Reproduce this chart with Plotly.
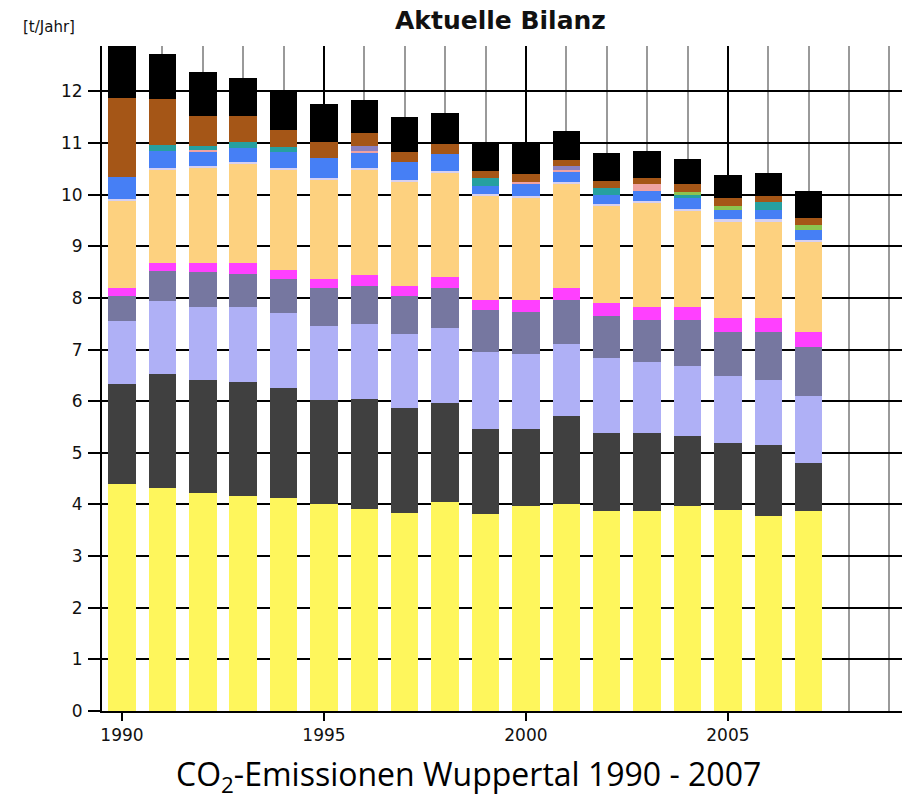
import plotly.graph_objects as go

years = list(range(1990, 2008))

# layer thicknesses in t/Jahr, bottom to top
gelb = [4.39, 4.31, 4.23, 4.16, 4.12, 4.00, 3.92, 3.84, 4.04, 3.81, 3.97, 4.00, 3.88, 3.88, 3.98, 3.89, 3.77, 3.88]
dunkelgrau = [1.94, 2.22, 2.18, 2.21, 2.13, 2.02, 2.13, 2.02, 1.93, 1.66, 1.50, 1.71, 1.51, 1.51, 1.34, 1.31, 1.39, 0.93]
lavendel = [1.22, 1.41, 1.41, 1.45, 1.45, 1.44, 1.45, 1.45, 1.45, 1.49, 1.45, 1.40, 1.45, 1.37, 1.37, 1.29, 1.25, 1.29]
schiefer = [0.49, 0.59, 0.69, 0.64, 0.66, 0.73, 0.74, 0.72, 0.77, 0.81, 0.81, 0.86, 0.81, 0.81, 0.88, 0.86, 0.94, 0.95]
magenta = [0.16, 0.14, 0.16, 0.21, 0.19, 0.17, 0.20, 0.21, 0.21, 0.20, 0.24, 0.23, 0.25, 0.25, 0.25, 0.27, 0.27, 0.30]
orange = [1.68, 1.81, 1.86, 1.93, 1.93, 1.93, 2.04, 2.01, 2.03, 2.01, 1.97, 2.01, 1.89, 2.02, 1.87, 1.87, 1.87, 1.75]
blass = [0.03] * 18
blau = [0.44, 0.34, 0.27, 0.28, 0.31, 0.40, 0.31, 0.36, 0.33, 0.16, 0.23, 0.20, 0.18, 0.21, 0.22, 0.18, 0.18, 0.18]
rosa = [0, 0, 0.04, 0, 0, 0, 0.03, 0, 0, 0, 0.05, 0.04, 0, 0.13, 0, 0, 0, 0]
tuerkis = [0, 0.11, 0.07, 0.11, 0.11, 0, 0, 0, 0, 0.15, 0, 0, 0.13, 0, 0.06, 0, 0.15, 0]
gruen = [0, 0, 0, 0, 0, 0, 0, 0, 0, 0, 0, 0, 0, 0, 0.06, 0.09, 0, 0.11]
violett = [0, 0, 0, 0, 0, 0, 0.09, 0, 0, 0, 0, 0.08, 0, 0, 0, 0, 0, 0]
braun = [1.53, 0.89, 0.58, 0.50, 0.32, 0.30, 0.25, 0.19, 0.20, 0.13, 0.16, 0.11, 0.14, 0.11, 0.15, 0.15, 0.12, 0.12]
schwarz = [1.12, 0.88, 0.86, 0.74, 0.77, 0.73, 0.64, 0.68, 0.60, 0.53, 0.57, 0.57, 0.53, 0.53, 0.48, 0.44, 0.45, 0.53]

layers = [
    (gelb, "#FEF65C"),
    (dunkelgrau, "#404040"),
    (lavendel, "#AFB0F6"),
    (schiefer, "#7677A0"),
    (magenta, "#FF40FF"),
    (orange, "#FDD17F"),
    (blass, "#D6D0F0"),
    (blau, "#467FF5"),
    (rosa, "#EFA3A3"),
    (tuerkis, "#26A0A0"),
    (gruen, "#8CC450"),
    (violett, "#8A80C0"),
    (braun, "#A55617"),
    (schwarz, "#000000"),
]

fig = go.Figure()
for vals, col in layers:
    fig.add_trace(go.Bar(x=years, y=vals, width=0.68, marker=dict(color=col, line=dict(width=0)),
                         showlegend=False))

tickfont = dict(family="DejaVu Sans", size=17, color="#111")

fig.update_layout(
    width=902, height=803,
    margin=dict(l=102, r=0, t=46, b=92),
    barmode="stack",
    plot_bgcolor="white", paper_bgcolor="white",
    xaxis=dict(
        range=[1989.505, 2009.31], tick0=1990, dtick=5,
        showgrid=True, gridcolor="#000000", gridwidth=1.5,
        minor=dict(tick0=1990, dtick=1, showgrid=True, gridcolor="#9a9a9a", gridwidth=1.5, ticks=""),
        ticks="outside", ticklen=8, tickwidth=1.5, tickcolor="#000",
        showline=True, linecolor="#000", linewidth=2,
        tickfont=tickfont, zeroline=False,
    ),
    yaxis=dict(
        range=[0, 12.88], tick0=0, dtick=1,
        showgrid=True, gridcolor="#000000", gridwidth=1.5,
        ticks="outside", ticklen=12, tickwidth=1.5, tickcolor="#000",
        showline=True, linecolor="#000", linewidth=2,
        tickfont=tickfont, zeroline=False, ticklabelstandoff=2,
    ),
    annotations=[
        dict(text="<b>Aktuelle Bilanz</b>", xref="paper", yref="paper",
             x=(500 - 102) / 800, y=(711 - 20) / 665, xanchor="center", yanchor="middle",
             showarrow=False, font=dict(family="DejaVu Sans", size=25, color="#111")),
        dict(text="[t/Jahr]", xref="paper", yref="paper",
             x=(49 - 102) / 800, y=(711 - 27) / 665, xanchor="center", yanchor="middle",
             showarrow=False, font=dict(family="DejaVu Sans", size=15, color="#111")),
        dict(text="CO<sub>2</sub>-Emissionen Wuppertal 1990 - 2007", xref="paper", yref="paper",
             x=(468 - 102) / 800, y=(711 - 776) / 665, xanchor="center", yanchor="middle",
             showarrow=False, font=dict(family="Open Sans", size=32, color="#000")),
    ],
)

fig.write_html("out.html", config={"displayModeBar": False},
               post_script="document.body.style.margin='0';document.body.style.overflow='hidden';")
